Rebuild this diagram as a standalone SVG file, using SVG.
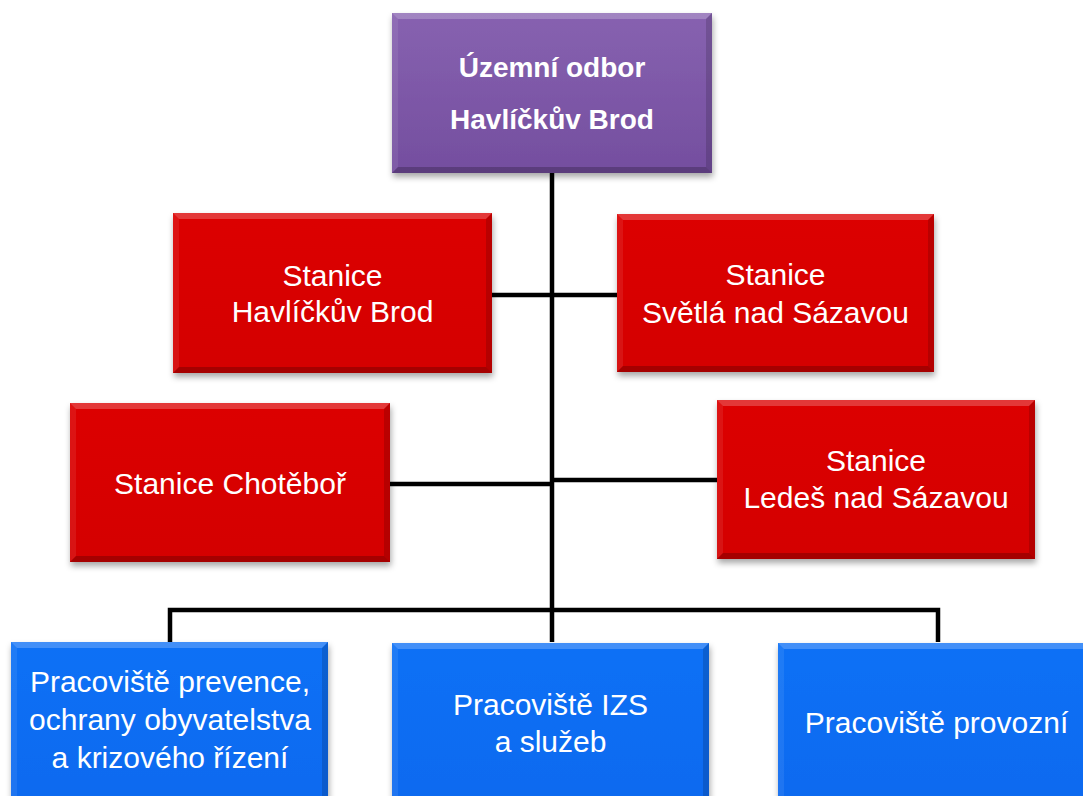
<svg xmlns="http://www.w3.org/2000/svg" width="1083" height="796" viewBox="0 0 1083 796">
<defs>
<filter id="sh" x="-10%" y="-10%" width="120%" height="130%">
<feDropShadow dx="1" dy="4" stdDeviation="3" flood-color="#000" flood-opacity="0.35"/>
</filter>
<linearGradient id="gP" x1="0" y1="0" x2="0" y2="1">
<stop offset="0" stop-color="#8762b0"/>
<stop offset="1" stop-color="#744e9f"/>
</linearGradient>
<linearGradient id="gR" x1="0" y1="0" x2="0" y2="1">
<stop offset="0" stop-color="#dc0606"/>
<stop offset="1" stop-color="#d40404"/>
</linearGradient>
<linearGradient id="gB" x1="0" y1="0" x2="0" y2="1">
<stop offset="0" stop-color="#0a70f6"/>
<stop offset="1" stop-color="#0a6aef"/>
</linearGradient>
</defs>
<style>
.conn{fill:none;stroke:#000;stroke-width:4.5;stroke-linejoin:miter}
.box{filter:url(#sh)}
.bt{fill:#fff;fill-opacity:0.22}
.bl{fill:#fff;fill-opacity:0.08}
.br{fill:#000;fill-opacity:0.15}
.bb{fill:#000;fill-opacity:0.22}
.t{font-family:"Liberation Sans",Arial,sans-serif;font-size:30px;fill:#fff;text-anchor:middle}
.tb{font-family:"Liberation Sans",Arial,sans-serif;font-size:28px;font-weight:bold;fill:#fff;text-anchor:middle}
</style>
<g id="connectors">
<path class="conn" d="M552 173 V642"/>
<path class="conn" d="M492 295 H617"/>
<path class="conn" d="M390 484 H552"/>
<path class="conn" d="M552 480 H717"/>
<path class="conn" d="M170 642 V610 H938 V642"/>
</g>
<g id="n-uzemni">
<g class="box"><rect x="392" y="13" width="320" height="160" fill="url(#gP)"/></g>
<polygon class="bt" points="392,13 712,13 706,19 398,19"/>
<polygon class="bl" points="392,13 398,19 398,167 392,173"/>
<polygon class="br" points="712,13 712,173 706,167 706,19"/>
<polygon class="bb" points="392,173 712,173 706,167 398,167"/>
<text class="tb" x="552" y="77">Územní odbor</text>
<text class="tb" x="552" y="129">Havlíčkův Brod</text>
</g>
<g id="n-hb">
<g class="box"><rect x="173" y="213" width="319" height="160" fill="url(#gR)"/></g>
<polygon class="bt" points="173,213 492,213 486,219 179,219"/>
<polygon class="bl" points="173,213 179,219 179,367 173,373"/>
<polygon class="br" points="492,213 492,373 486,367 486,219"/>
<polygon class="bb" points="173,373 492,373 486,367 179,367"/>
<text class="t" x="332.5" y="286">Stanice</text>
<text class="t" x="332.5" y="322">Havlíčkův Brod</text>
</g>
<g id="n-svetla">
<g class="box"><rect x="617" y="214" width="317" height="158" fill="url(#gR)"/></g>
<polygon class="bt" points="617,214 934,214 928,220 623,220"/>
<polygon class="bl" points="617,214 623,220 623,366 617,372"/>
<polygon class="br" points="934,214 934,372 928,366 928,220"/>
<polygon class="bb" points="617,372 934,372 928,366 623,366"/>
<text class="t" x="775.5" y="285">Stanice</text>
<text class="t" x="775.5" y="323">Světlá nad Sázavou</text>
</g>
<g id="n-chotebor">
<g class="box"><rect x="70" y="403" width="320" height="159" fill="url(#gR)"/></g>
<polygon class="bt" points="70,403 390,403 384,409 76,409"/>
<polygon class="bl" points="70,403 76,409 76,556 70,562"/>
<polygon class="br" points="390,403 390,562 384,556 384,409"/>
<polygon class="bb" points="70,562 390,562 384,556 76,556"/>
<text class="t" x="230" y="494">Stanice Chotěboř</text>
</g>
<g id="n-ledec">
<g class="box"><rect x="717" y="400" width="318" height="159" fill="url(#gR)"/></g>
<polygon class="bt" points="717,400 1035,400 1029,406 723,406"/>
<polygon class="bl" points="717,400 723,406 723,553 717,559"/>
<polygon class="br" points="1035,400 1035,559 1029,553 1029,406"/>
<polygon class="bb" points="717,559 1035,559 1029,553 723,553"/>
<text class="t" x="876" y="471">Stanice</text>
<text class="t" x="876" y="508">Ledeš nad Sázavou</text>
</g>
<g id="n-prevence">
<g class="box"><rect x="11" y="642" width="317" height="165" fill="url(#gB)"/></g>
<polygon class="bt" points="11,642 328,642 322,648 17,648"/>
<polygon class="bl" points="11,642 17,648 17,801 11,807"/>
<polygon class="br" points="328,642 328,807 322,801 322,648"/>
<text class="t" x="170" y="692">Pracoviště prevence,</text>
<text class="t" x="170" y="730">ochrany obyvatelstva</text>
<text class="t" x="170" y="768">a krizového řízení</text>
</g>
<g id="n-izs">
<g class="box"><rect x="392" y="643" width="317" height="165" fill="url(#gB)"/></g>
<polygon class="bt" points="392,643 709,643 703,649 398,649"/>
<polygon class="bl" points="392,643 398,649 398,802 392,808"/>
<polygon class="br" points="709,643 709,808 703,802 703,649"/>
<text class="t" x="550.5" y="715">Pracoviště IZS</text>
<text class="t" x="550.5" y="752">a služeb</text>
</g>
<g id="n-provozni">
<g class="box"><rect x="778" y="643" width="317" height="165" fill="url(#gB)"/></g>
<polygon class="bt" points="778,643 1095,643 1089,649 784,649"/>
<polygon class="bl" points="778,643 784,649 784,802 778,808"/>
<text class="t" x="936.5" y="733">Pracoviště provozní</text>
</g>
</svg>
